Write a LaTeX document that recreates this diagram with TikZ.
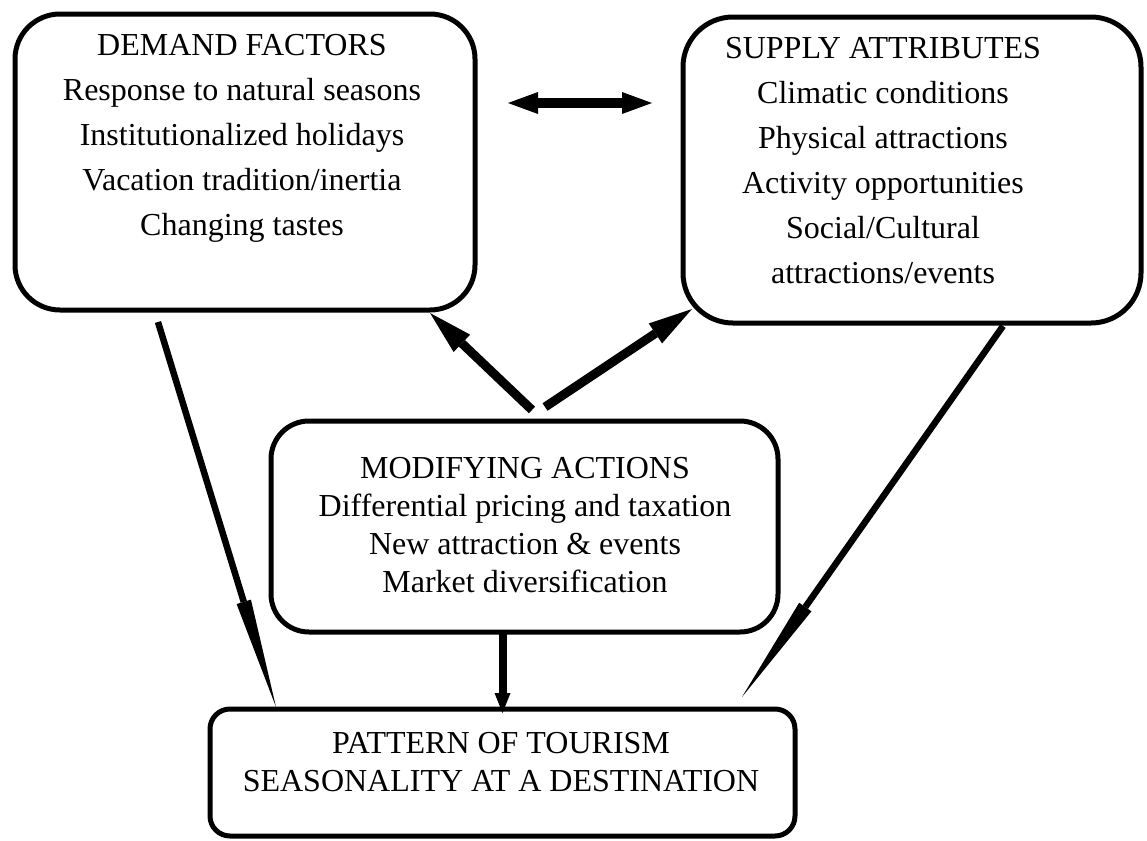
\documentclass[tikz,border=0pt]{standalone}
\usepackage{fontspec}
\setmainfont{Liberation Serif}
\usetikzlibrary{arrows.meta}
\tikzset{box/.style={draw, line width=2.5pt, outer sep=0pt, inner sep=0pt},
 txt/.style={align=center, inner sep=0pt, anchor=north, font=\fontsize{16}{19}\selectfont},
 wide txt/.style={txt, font=\fontsize{16}{22.5}\selectfont},
 fat arrow/.style={line width=4.5pt, -{Triangle[length=22pt,width=12pt,line width=0pt]}},
 down arrow/.style={line width=4pt, -{Triangle[length=10pt,width=8pt,line width=0pt]}},
 slim arrow/.style={line width=3.25pt, -{Triangle[length=55pt,width=7.5pt,line width=0pt]}},
 both arrow/.style={line width=5pt, {Triangle[length=15pt,width=11pt,line width=0pt]}-{Triangle[length=15pt,width=11pt,line width=0pt]}},
 }

\begin{document}
\begin{tikzpicture}[x=0.5pt, y=-0.5pt]
        \useasboundingbox (0,0) rectangle (1147,841);

        % the four boxes
        \node[box, minimum width=230pt, minimum height=148pt, rounded corners=22.5pt] (demand) at (245,162) {};
        \node[box, minimum width=229pt, minimum height=153pt, rounded corners=25pt] (supply) at (912,170) {};
        \node[box, minimum width=253.5pt, minimum height=105.5pt, rounded corners=19pt] (modify) at (524.5,526.5) {};
        \node[box, minimum width=292.5pt, minimum height=63.5pt, rounded corners=10pt] (pattern) at (502.5,772.5) {};

        % texts
        \node[wide txt] (demandtxt) at (242,34) {DEMAND FACTORS\\Response to natural seasons\\Institutionalized holidays\\Vacation tradition/inertia\\Changing tastes};
        \node[wide txt] (supplytxt) at (883,37) {SUPPLY ATTRIBUTES\\Climatic conditions\\Physical attractions\\Activity opportunities\\Social/Cultural\\attractions/events};
        \node[txt] (modifytxt) at (525,457) {MODIFYING ACTIONS\\Differential pricing and taxation\\New attraction \& events\\Market diversification};
        \node[txt] (patterntxt) at (501,732) {PATTERN OF TOURISM\\SEASONALITY AT A DESTINATION};

        % arrows
        \draw[both arrow] ([shift={(33,-59)}]demand.east) -- ([shift={(-31,-67)}]supply.west);
        \draw[fat arrow] ([shift={(7.5,-11)}]modify.north) -- ([shift={(185,3)}]demand.south);
        \draw[fat arrow] ([shift={(20.5,-14)}]modify.north) -- ([shift={(9,139)}]supply.west);
        \draw[down arrow] (modify.south -| pattern.north) -- ([yshift=-2]pattern.north);
        \draw[slim arrow] ([shift={(-87,12)}]demand.south) -- ([shift={(66,-2)}]pattern.north west);
        \draw[slim arrow] ([shift={(91,3)}]supply.south) -- ([shift={(-53,-12)}]pattern.north east);
    \end{tikzpicture}
\end{document}
